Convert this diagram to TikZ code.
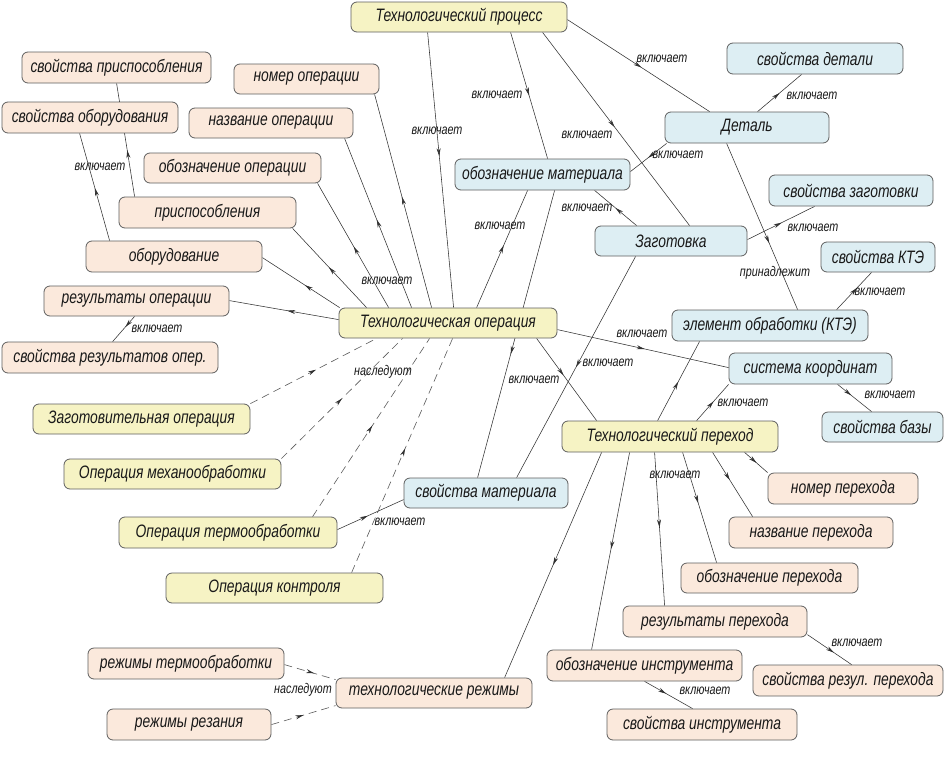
\documentclass[tikz,border=0pt]{standalone}
\usepackage{fontspec}
\newfontfamily\gost{Liberation Sans}[FakeStretch=0.77]
\usetikzlibrary{decorations.markings,backgrounds,arrows.meta}
\definecolor{cpeach}{RGB}{251,233,220}
\definecolor{cyell}{RGB}{246,243,196}
\definecolor{cblue}{RGB}{221,238,243}
\definecolor{cbord}{RGB}{95,95,95}
\definecolor{cline}{RGB}{50,50,50}
\definecolor{ctext}{RGB}{25,25,25}
\tikzset{
 box/.style={draw=cbord, line width=0.8pt, rounded corners=6pt, inner sep=0pt,
   font=\gost\itshape\fontsize{18}{20}\selectfont, text=ctext},
 pbox/.style={box, fill=cpeach},
 ybox/.style={box, fill=cyell},
 bbox/.style={box, fill=cblue},
 lbl/.style={font=\gost\itshape\fontsize{14}{15}\selectfont, text=ctext, inner sep=0pt},
 conn/.style={draw=cline, line width=0.55pt},
 inh/.style={draw=cline!80, line width=0.6pt, dash pattern=on 8pt off 5pt},
 arr/.style={postaction={decorate}, decoration={markings,
   mark=at position #1 with {\arrow[cline]{Stealth[length=8pt,width=4pt]}}}},
}
\begin{document}
\begin{tikzpicture}[x=1pt,y=-1pt]
\useasboundingbox (0,0) rectangle (946,758);
% nodes
\node[ybox, minimum width=216pt, minimum height=30pt] (TP) at (459,17) {Технологический процесс};
\node[pbox, minimum width=189pt, minimum height=31pt] (SvPr) at (116.5,67.5) {свойства приспособления};
\node[pbox, minimum width=176pt, minimum height=31pt] (SvOb) at (90,117.5) {свойства оборудования};
\node[pbox, minimum width=145pt, minimum height=30pt] (NomOp) at (306.5,79) {номер операции};
\node[pbox, minimum width=164pt, minimum height=30pt] (NazOp) at (271,123) {название операции};
\node[pbox, minimum width=177pt, minimum height=30pt] (ObozOp) at (232.5,168) {обозначение операции};
\node[pbox, minimum width=177pt, minimum height=31pt] (Prisp) at (207.5,212.5) {приспособления};
\node[pbox, minimum width=176pt, minimum height=31pt] (Obor) at (174,256.5) {оборудование};
\node[pbox, minimum width=185pt, minimum height=30pt] (ResOp) at (136.5,301) {результаты операции};
\node[pbox, minimum width=216pt, minimum height=31pt] (SvResOp) at (110,357.5) {свойства результатов опер.};
\node[ybox, minimum width=217pt, minimum height=30pt] (ZagOp) at (141.5,419) {Заготовительная операция};
\node[ybox, minimum width=217pt, minimum height=30pt] (MehOp) at (172.5,474) {Операция механообработки};
\node[ybox, minimum width=218pt, minimum height=31pt] (TermOp) at (228,532.5) {Операция термообработки};
\node[ybox, minimum width=217pt, minimum height=30pt] (KontrOp) at (274.5,588) {Операция контроля};
\node[pbox, minimum width=196pt, minimum height=31pt] (RezhTerm) at (186,663.5) {режимы термообработки};
\node[pbox, minimum width=164pt, minimum height=31pt] (RezhRez) at (189,724.5) {режимы резания};
\node[pbox, minimum width=196pt, minimum height=30pt] (TehRezh) at (434,693) {технологические режимы};
\node[bbox, minimum width=164pt, minimum height=30pt] (SvMat) at (486,493) {свойства материала};
\node[ybox, minimum width=218pt, minimum height=30pt] (TO) at (448,323) {Технологическая операция};
\node[bbox, minimum width=175pt, minimum height=31pt] (ObozMat) at (542.5,174.5) {обозначение материала};
\node[bbox, minimum width=164pt, minimum height=31pt] (Det) at (747,127.5) {Деталь};
\node[bbox, minimum width=176pt, minimum height=31pt] (SvDet) at (815,58.5) {свойства детали};
\node[bbox, minimum width=164pt, minimum height=31pt] (SvZag) at (851,190.5) {свойства заготовки};
\node[bbox, minimum width=152pt, minimum height=30pt] (Zag) at (671,241) {Заготовка};
\node[bbox, minimum width=114pt, minimum height=30pt] (SvKTE) at (878,257) {свойства КТЭ};
\node[bbox, minimum width=196pt, minimum height=31pt] (KTE) at (770,325.5) {элемент обработки (КТЭ)};
\node[bbox, minimum width=163pt, minimum height=31pt] (SysK) at (810.5,368.5) {система координат};
\node[bbox, minimum width=121pt, minimum height=30pt] (SvBaz) at (882.5,427) {свойства базы};
\node[ybox, minimum width=216pt, minimum height=31pt] (TPer) at (670,436.5) {Технологический переход};
\node[pbox, minimum width=150pt, minimum height=31pt] (NomPer) at (843,488.5) {номер перехода};
\node[pbox, minimum width=164pt, minimum height=31pt] (NazPer) at (811,532.5) {название перехода};
\node[pbox, minimum width=177pt, minimum height=30pt] (ObozPer) at (769.5,578) {обозначение перехода};
\node[pbox, minimum width=184pt, minimum height=31pt] (ResPer) at (715,621.5) {результаты перехода};
\node[pbox, minimum width=190pt, minimum height=31pt] (SvResPer) at (848,680.5) {свойства резул. перехода};
\node[pbox, minimum width=195pt, minimum height=31pt] (ObozInstr) at (644.5,665.5) {обозначение инструмента};
\node[pbox, minimum width=190pt, minimum height=31pt] (SvInstr) at (702,724.5) {свойства инструмента};
% connectors
\begin{pgfonlayer}{background}
\fill[white] (0,0) rectangle (946,758);
\draw[conn, arr=0.45] ([xshift=77pt]TP.south west) -- ([xshift=115pt]TO.north west);
\draw[conn, arr=0.5] ([xshift=160pt]TP.south west) -- ([xshift=93pt]ObozMat.north west);
\draw[conn, arr=0.49] ([xshift=192pt]TP.south west) -- ([xshift=95pt]Zag.north west);
\draw[conn, arr=0.52] ([yshift=-18pt]TP.north east) -- ([xshift=45pt]Det.north west);
\draw[conn, arr=0.5] ([xshift=93pt]Det.north west) -- ([xshift=75pt]SvDet.south west);
\draw[conn, arr=0.51] ([xshift=2pt]Det.south west) -- ([yshift=-13pt]ObozMat.north east);
\draw[conn, arr=0.53] ([xshift=138pt]TO.north west) -- ([xshift=73pt]ObozMat.south west);
\draw[conn, arr=0.5] ([xshift=42pt]Zag.north west) -- ([xshift=140pt]ObozMat.south west);
\draw[conn, arr=0.51] ([yshift=-14pt]Zag.north east) -- ([xshift=46pt]SvZag.south west);
\draw[conn, arr=0.52] ([xshift=93pt]TO.north west) -- ([xshift=141pt]NomOp.south west);
\draw[conn, arr=0.52] ([xshift=73pt]TO.north west) -- ([xshift=156pt]NazOp.south west);
\draw[conn, arr=0.49] ([xshift=50pt]TO.north west) -- ([xshift=174pt]ObozOp.south west);
\draw[conn, arr=0.51] ([xshift=28pt]TO.north west) -- ([xshift=174pt]Prisp.south west);
\draw[conn, arr=0.45] ([xshift=1pt]TO.north west) -- ([yshift=-17pt]Obor.north east);
\draw[conn, arr=0.47] ([yshift=-12pt]TO.north west) -- ([yshift=-15pt]ResOp.north east);
\draw[conn, arr=0.49] ([xshift=24pt]Obor.north west) -- ([xshift=78pt]SvOb.south west);
\draw[conn, arr=0.41] ([xshift=16pt]Prisp.north west) -- ([xshift=95pt]SvPr.south west);
\draw[conn, arr=0.42] ([xshift=91pt]ResOp.south west) -- ([xshift=111pt]SvResOp.north west);
\draw[conn, arr=0.51] ([yshift=-22pt]TO.north east) -- ([yshift=-15pt]SysK.north west);
\draw[conn, arr=0.5] ([xshift=41pt]Zag.south west) -- ([xshift=113pt]SvMat.north west);
\draw[conn, arr=0.57] ([xshift=100pt]ObozMat.south west) -- ([xshift=74pt]SvMat.north west);
\draw[conn, arr=0.45] ([xshift=198pt]TO.south west) -- ([xshift=35pt]TPer.north west);
\draw[conn, arr=0.49] ([xshift=96pt]TPer.north west) -- ([xshift=28pt]KTE.south west);
\draw[conn, arr=0.60] ([xshift=62pt]Det.south west) -- ([xshift=126pt]KTE.north west);
\draw[conn, arr=0.58] ([xshift=165pt]KTE.north west) -- ([xshift=51pt]SvKTE.south west);
\draw[conn, arr=0.53] ([xshift=135pt]TPer.north west) -- (SysK.south west);
\draw[conn, arr=0.4] ([xshift=109pt]SysK.south west) -- ([xshift=50pt]SvBaz.north west);
\draw[conn, arr=0.5] ([xshift=40pt]TPer.south west) -- ([xshift=169pt]TehRezh.north west);
\draw[conn, arr=0.49] ([xshift=68pt]TPer.south west) -- ([xshift=45pt]ObozInstr.north west);
\draw[conn, arr=0.49] ([xshift=93pt]TPer.south west) -- ([xshift=42pt]ResPer.north west);
\draw[conn, arr=0.46] ([xshift=121pt]TPer.south west) -- ([xshift=36pt]ObozPer.north west);
\draw[conn, arr=0.43] ([xshift=151pt]TPer.south west) -- ([xshift=24pt]NazPer.north west);
\draw[conn, arr=0.52] ([xshift=183pt]TPer.south west) -- (NomPer.north west);
\draw[conn, arr=0.6] ([yshift=-29pt]ResPer.north east) -- ([xshift=99pt]SvResPer.north west);
\draw[conn, arr=0.45] ([xshift=98pt]ObozInstr.south west) -- ([xshift=86pt]SvInstr.north west);
\draw[conn, arr=0.46] ([yshift=-13pt]TermOp.north east) -- ([yshift=-22pt]SvMat.north west);
\draw[inh, arr=0.52] (ZagOp.north east) -- ([xshift=38pt]TO.south west);
\draw[inh, arr=0.5] (MehOp.north east) -- ([xshift=64pt]TO.south west);
\draw[inh, arr=0.51] ([xshift=194pt]TermOp.north west) -- ([xshift=91pt]TO.south west);
\draw[inh, arr=0.53] ([xshift=186pt]KontrOp.north west) -- ([xshift=114pt]TO.south west);
\draw[inh, arr=0.58] ([yshift=-17pt]RezhTerm.north east) -- ([yshift=-2pt]TehRezh.north west);
\draw[inh, arr=0.5] ([yshift=-16pt]RezhRez.north east) -- ([yshift=-28pt]TehRezh.north west);
\end{pgfonlayer}
% labels
\node[lbl] (l1) at (437,131) {включает};
\node[lbl] (l2) at (497,95) {включает};
\node[lbl] (l3) at (587,135) {включает};
\node[lbl] (l4) at (662,59) {включает};
\node[lbl] (l5) at (812,96) {включает};
\node[lbl] (l6) at (678,155) {включает};
\node[lbl] (l7) at (500,226) {включает};
\node[lbl] (l8) at (587,208) {включает};
\node[lbl] (l9) at (813,228) {включает};
\node[lbl] (l10) at (387,281) {включает};
\node[lbl] (l11) at (100,167) {включает};
\node[lbl] (l12) at (157,329) {включает};
\node[lbl] (l13) at (642,334) {включает};
\node[lbl] (l14) at (608,363) {включает};
\node[lbl] (l15) at (534,380) {включает};
\node[lbl] (l16) at (880,292) {включает};
\node[lbl] (l17) at (743,403) {включает};
\node[lbl] (l18) at (890,395) {включает};
\node[lbl] (l19) at (675,475) {включает};
\node[lbl] (l20) at (857,643) {включает};
\node[lbl] (l21) at (705,691) {включает};
\node[lbl] (l22) at (400,522) {включает};
\node[lbl] (l23) at (775,273) {принадлежит};
\node[lbl] (l24) at (383,372) {наследуют};
\node[lbl] (l25) at (303,690) {наследуют};
\end{tikzpicture}
\end{document}
